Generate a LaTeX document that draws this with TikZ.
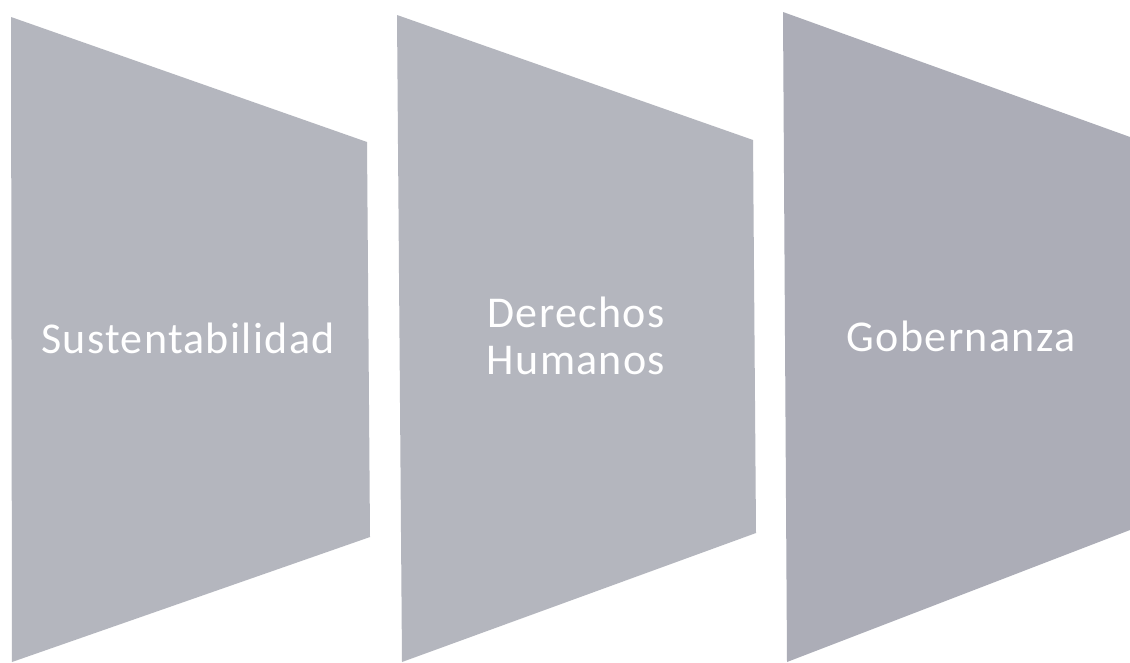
\documentclass[tikz,border=0pt]{standalone}
\usepackage{fontspec}
\setmainfont{Carlito}[LetterSpace=3]
\usepackage{tikz}
\usepackage{xcolor}
\definecolor{panelgray}{RGB}{180,182,190}
\definecolor{paneldark}{RGB}{172,173,183}
\tikzset{
    panel-shape/.style = {fill=panelgray, draw=none},
    panel-label/.style = {text=white, font=\fontsize{44}{47}\selectfont, align=center, inner sep=0pt, anchor=base},
}

\begin{document}
\begin{tikzpicture}[x=1pt, y=-1pt]
\useasboundingbox (0,0) rectangle (1130,662);
\fill[white] (0,0) rectangle (1130,662);
\fill[panel-shape] (11,17) -- (367,142) -- (370,537) -- (12,662) -- cycle;
\fill[panel-shape] (397,15) -- (753,140) -- (756,533) -- (402,662) -- cycle;
\fill[panel-shape, fill=paneldark] (783,12) -- (1130,137) -- (1130,530) -- (787,662) -- cycle;
\node[panel-label] (sust) at (188,353) {Sustentabilidad};
\node[panel-label] (ddhh) at (576,374) {Derechos\\Humanos};
\node[panel-label] (gob) at (961,351) {Gobernanza};
\end{tikzpicture}
\end{document}
